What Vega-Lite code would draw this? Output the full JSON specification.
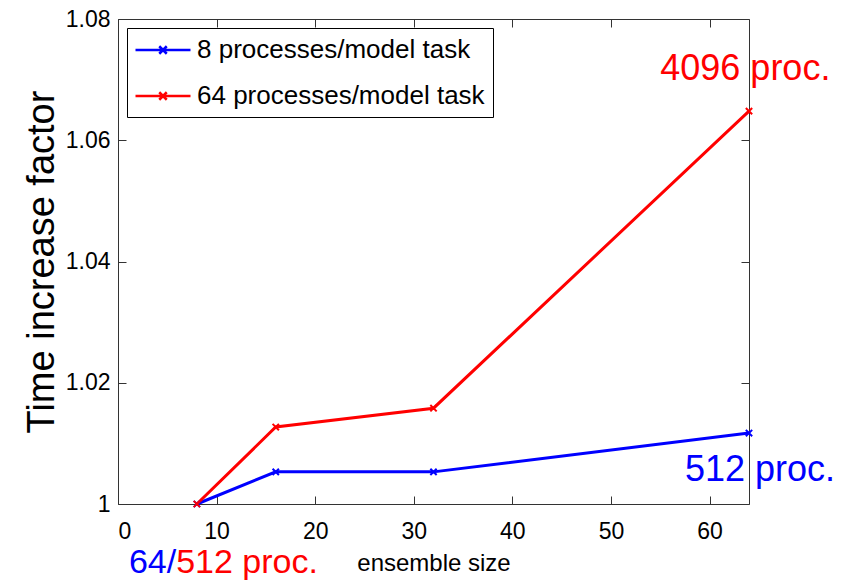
{
  "$schema": "https://vega.github.io/schema/vega-lite/v6.json",
  "width": 631,
  "height": 485,
  "autosize": {"type": "none"},
  "padding": {"left": 118, "top": 19, "right": 103, "bottom": 77},
  "background": "white",
  "config": {
    "view": {"stroke": "#333333", "strokeWidth": 1},
    "font": "Liberation Sans"
  },
  "datasets": {
    "series": [
      {"series": "8 processes/model task", "ensemble": 8, "factor": 1.0},
      {"series": "8 processes/model task", "ensemble": 16, "factor": 1.0053},
      {"series": "8 processes/model task", "ensemble": 32, "factor": 1.0053},
      {"series": "8 processes/model task", "ensemble": 64, "factor": 1.0117},
      {"series": "64 processes/model task", "ensemble": 8, "factor": 1.0},
      {"series": "64 processes/model task", "ensemble": 16, "factor": 1.0127},
      {"series": "64 processes/model task", "ensemble": 32, "factor": 1.0158},
      {"series": "64 processes/model task", "ensemble": 64, "factor": 1.0648}
    ]
  },
  "resolve": {"axis": {"x": "independent", "y": "independent"}},
  "layer": [
    {
      "data": {"name": "series"},
      "mark": {
        "type": "line",
        "strokeWidth": 3,
        "point": {"shape": "M-1,-1L1,1M-1,1L1,-1", "filled": false, "size": 40, "strokeWidth": 2}
      },
      "encoding": {
        "x": {
          "field": "ensemble", "type": "quantitative",
          "scale": {"domain": [0, 64], "nice": false, "zero": false},
          "axis": {
            "orient": "bottom", "values": [0, 10, 20, 30, 40, 50, 60], "grid": false, "domain": false,
            "tickSize": -8, "tickColor": "#333333", "labelPadding": 24, "labelFontSize": 23, "labelColor": "black",
            "labelFont": "Liberation Sans", "title": "ensemble size", "titleFontSize": 24, "titleFontWeight": "normal",
            "titleColor": "black", "titlePadding": 8, "titleFont": "Liberation Sans"
          }
        },
        "y": {
          "field": "factor", "type": "quantitative",
          "scale": {"domain": [1, 1.08], "nice": false, "zero": false},
          "axis": {
            "orient": "left", "values": [1, 1.02, 1.04, 1.06, 1.08], "format": "~g", "grid": false, "domain": false,
            "tickSize": -8, "tickColor": "#333333", "labelPadding": 16, "labelFontSize": 23, "labelColor": "black",
            "labelFont": "Liberation Sans", "title": "Time increase factor", "titleFontSize": 38, "titleFontWeight": "normal",
            "titleColor": "black", "titlePadding": 4, "titleFont": "Liberation Sans"
          }
        },
        "color": {
          "field": "series", "type": "nominal",
          "scale": {"domain": ["8 processes/model task", "64 processes/model task"], "range": ["#0000ff", "#ff0000"]},
          "legend": {
            "title": null, "orient": "top-left", "offset": 9, "padding": 8,
            "strokeColor": "black", "fillColor": "white",
            "labelFontSize": 26, "labelFont": "Liberation Sans", "labelColor": "black", "labelOffset": 20, "labelLimit": 500,
            "symbolType": "M-2.2,0H2.2M-0.3,-0.3L0.3,0.3M-0.3,0.3L0.3,-0.3",
            "symbolSize": 625, "symbolStrokeWidth": 2.5, "symbolOffset": 14, "rowPadding": 19
          }
        }
      }
    },
    {
      "data": {"name": "series"},
      "mark": {"type": "line", "strokeOpacity": 0},
      "encoding": {
        "x": {
          "field": "ensemble", "type": "quantitative",
          "scale": {"domain": [0, 64], "nice": false, "zero": false},
          "axis": {"orient": "top", "values": [0, 10, 20, 30, 40, 50, 60], "grid": false, "domain": false,
            "labels": false, "tickSize": -8, "tickColor": "#333333", "title": null}
        },
        "y": {
          "field": "factor", "type": "quantitative",
          "scale": {"domain": [1, 1.08], "nice": false, "zero": false},
          "axis": {"orient": "right", "values": [1, 1.02, 1.04, 1.06, 1.08], "grid": false, "domain": false,
            "labels": false, "tickSize": -8, "tickColor": "#333333", "title": null}
        },
        "detail": {"field": "series", "type": "nominal"}
      }
    },
    {
      "data": {"values": [{"note": "4096 proc.", "ensemble": 55.0, "factor": 1.0718}]},
      "mark": {"type": "text", "align": "left", "baseline": "middle", "fontSize": 36, "font": "Liberation Sans", "color": "#ff0000"},
      "encoding": {
        "x": {"field": "ensemble", "type": "quantitative", "axis": null},
        "y": {"field": "factor", "type": "quantitative", "axis": null},
        "text": {"field": "note"}
      }
    },
    {
      "data": {"values": [{"note": "512 proc.", "ensemble": 57.5, "factor": 1.0056}]},
      "mark": {"type": "text", "align": "left", "baseline": "middle", "fontSize": 36, "font": "Liberation Sans", "color": "#0000ff"},
      "encoding": {
        "x": {"field": "ensemble", "type": "quantitative", "axis": null},
        "y": {"field": "factor", "type": "quantitative", "axis": null},
        "text": {"field": "note"}
      }
    },
    {
      "data": {"values": [{"note": "64/", "ensemble": 5.9, "factor": 0.9902}]},
      "mark": {"type": "text", "align": "right", "baseline": "middle", "fontSize": 34, "font": "Liberation Sans", "color": "#0000ff"},
      "encoding": {
        "x": {"field": "ensemble", "type": "quantitative", "axis": null},
        "y": {"field": "factor", "type": "quantitative", "axis": null},
        "text": {"field": "note"}
      }
    },
    {
      "data": {"values": [{"note": "512 proc.", "ensemble": 5.9, "factor": 0.9902}]},
      "mark": {"type": "text", "align": "left", "baseline": "middle", "fontSize": 34, "font": "Liberation Sans", "color": "#ff0000"},
      "encoding": {
        "x": {"field": "ensemble", "type": "quantitative", "axis": null},
        "y": {"field": "factor", "type": "quantitative", "axis": null},
        "text": {"field": "note"}
      }
    }
  ]
}
